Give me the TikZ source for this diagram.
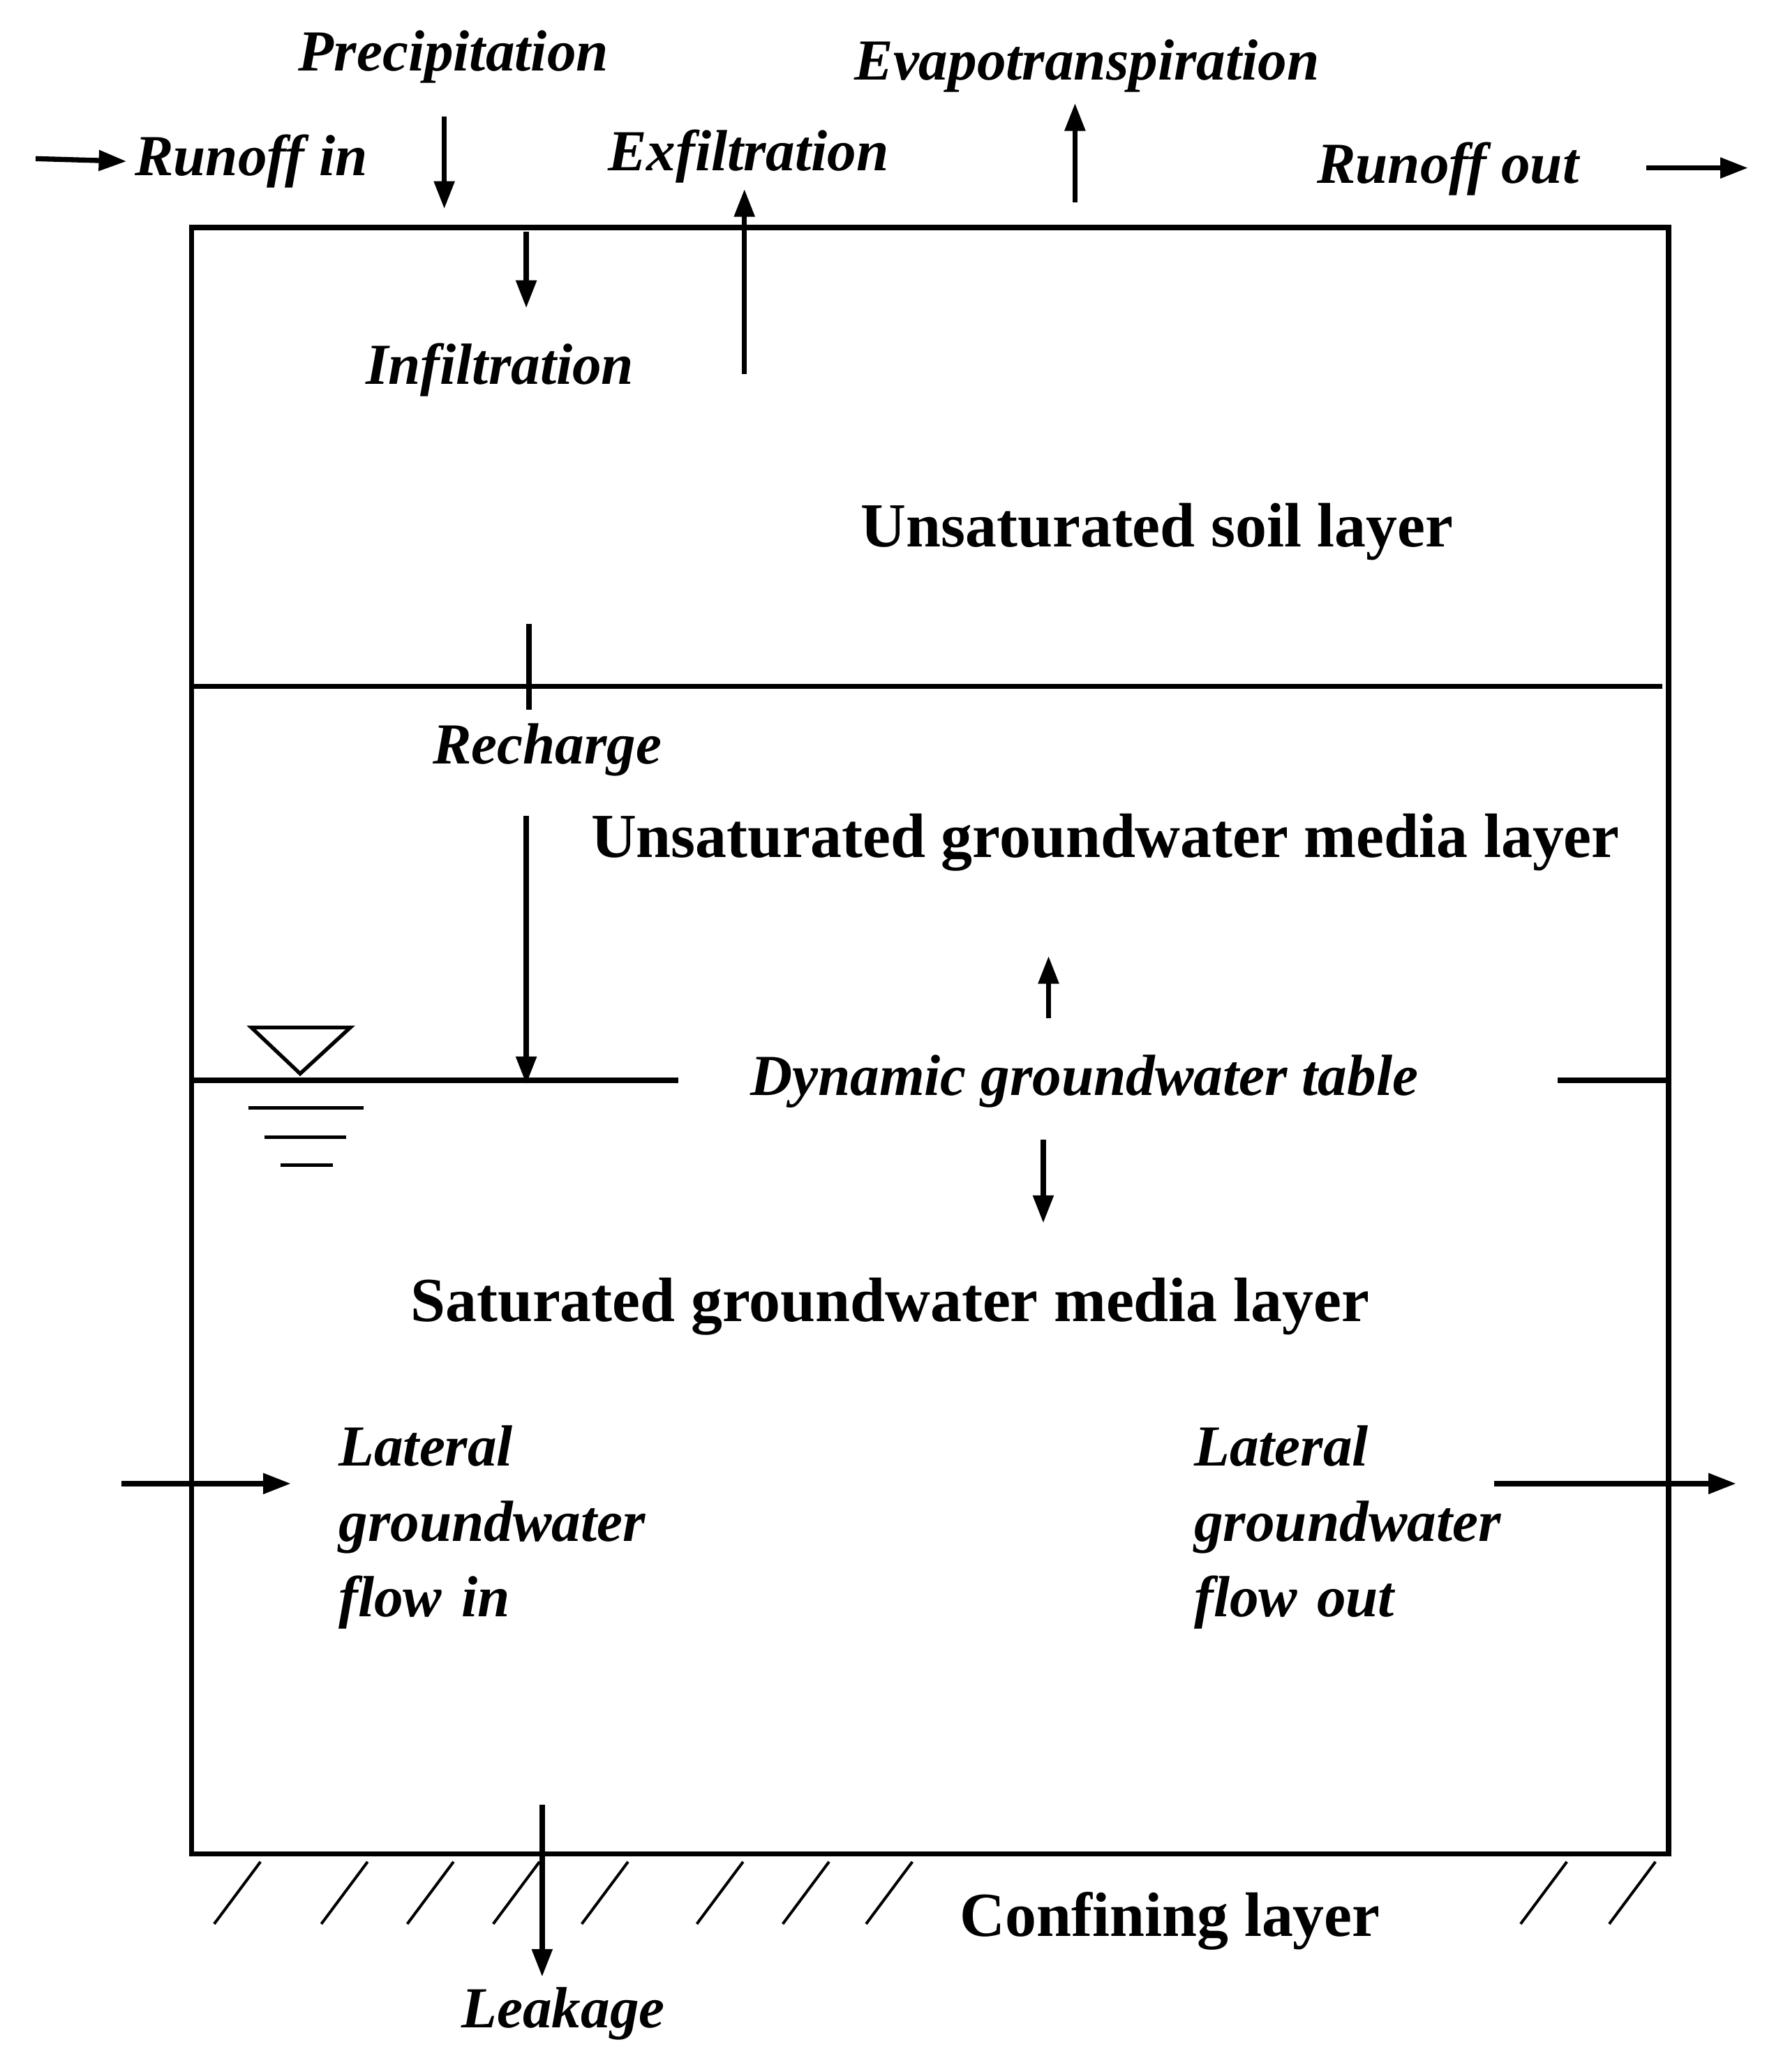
\documentclass[tikz,border=0pt]{standalone}
\usepackage{fontspec}
\setmainfont{Liberation Serif}
\usetikzlibrary{arrows.meta, positioning}

\begin{document}
\begin{tikzpicture}[
  x=0.02cm,
  y=-0.02cm,
  line/.style={line width=2.2pt},
  arrow/.style={line, -{Triangle[length=0.42cm, width=0.3cm]}},
  flux/.style={font=\fontsize{25}{32.5}\selectfont\bfseries\itshape},
  layer/.style={font=\fontsize{27}{31}\selectfont\bfseries},
  hatch/.style={line width=1.2pt}
]
\useasboundingbox (0,0) rectangle (1336,1567);

% domain and layer boundaries
\draw[line] (145,172) rectangle (1262,1402);
\draw[line] (145,519) -- (1257,519);
\draw[line] (145,817) -- (513,817);
\draw[line] (1178,817) -- (1262,817);

% water table symbol
\draw[line width=1.6pt] (190,777) -- (265,777) -- (227,812) -- cycle;
\draw[line width=1.6pt] (188,838) -- (275,838);
\draw[line width=1.6pt] (200,860) -- (262,860);
\draw[line width=1.6pt] (212,881) -- (252,881);

% confining layer hatching
\foreach \hx in {162,243,308,373,440,527,592,655,1150,1217}
  \draw[hatch] (\hx,1455) -- (\hx+35,1408);

% labels
\node[flux] (runin) at (190,122) {Runoff in};
\node[flux] (precip) at (343,43) {Precipitation};
\node[flux] (infil) at (378,280) {Infiltration};
\node[flux] (exfil) at (566,118) {Exfiltration};
\node[flux] (evap) at (822,50) {Evapotranspiration};
\node[flux] (runout) at (1095,128) {Runoff out};
\node[layer] (soil) at (875,402) {Unsaturated soil layer};
\node[flux] (rech) at (414,567) {Recharge};
\node[layer] (unsat) at (836,637) {Unsaturated groundwater media layer};
\node[flux] (table) at (820,818) {Dynamic groundwater table};
\node[layer] (sat) at (673,988) {Saturated groundwater media layer};
\node[flux, align=left, anchor=west, text width=6cm] (latin) at (250,1155)
  {Lateral\\groundwater\\flow in};
\node[flux, align=left, anchor=west, text width=6cm] (latout) at (897,1155)
  {Lateral\\groundwater\\flow out};
\node[flux] (leak) at (426,1523) {Leakage};
\node[layer] (conf) at (885,1453) {Confining layer};

% fluxes
\draw[arrow] (27,120) -- (runin.west);
\draw[arrow] (336,88) -- (336,158);
\draw[arrow] (398,175) -- (398,233);
\draw[arrow] (563,283) -- (563,143);
\draw[arrow] (813,153) -- (813,78);
\draw[arrow] (1245,127) -- (1322,127);
\draw[line] (400,472) -- (400,537);
\draw[arrow] (398,617) -- (398,820);
\draw[arrow] (793,770) -- (793,723);
\draw[arrow] (789,862) -- (789,925);
\draw[arrow] (92,1122) -- (220,1122);
\draw[arrow] (1130,1122) -- (1313,1122);
\draw[arrow] (410,1365) -- (410,1495);

\end{tikzpicture}
\end{document}
